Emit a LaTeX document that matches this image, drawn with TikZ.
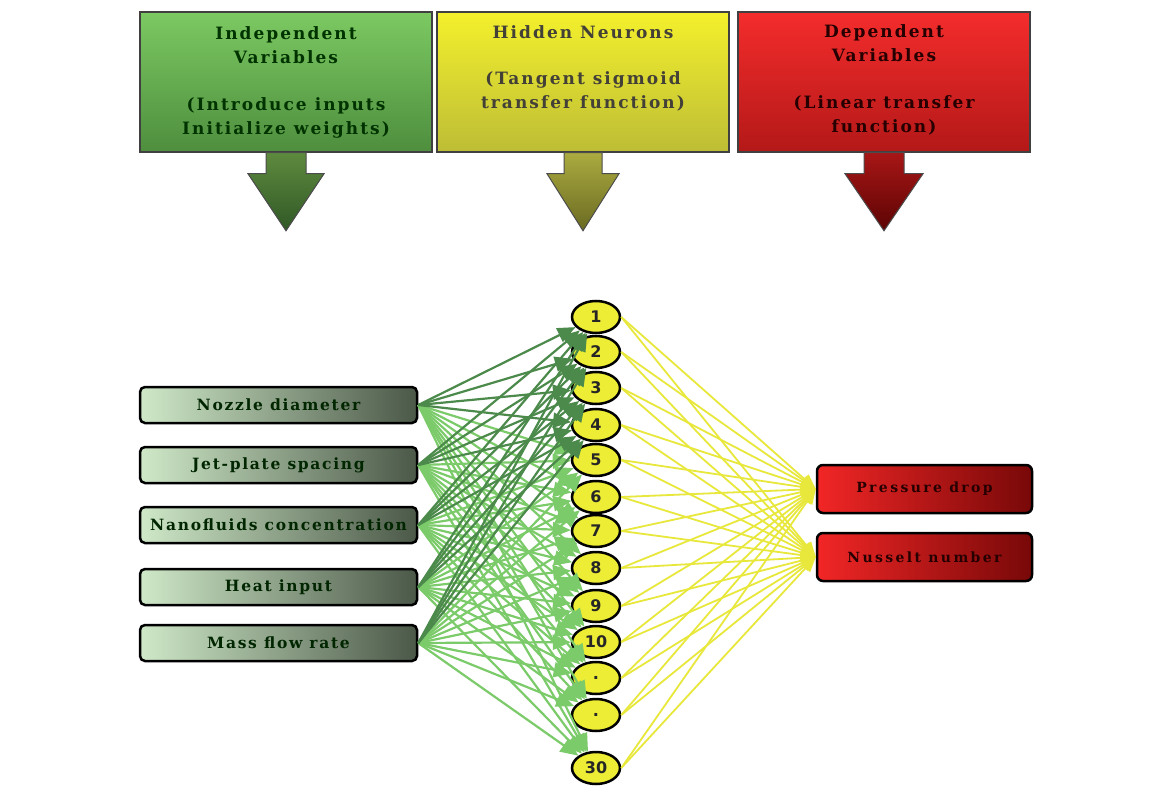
\documentclass[tikz,border=0pt]{standalone}
\usepackage{fontspec}
\setmainfont{DejaVu Serif}
\setsansfont{DejaVu Sans}
\newfontfamily\headfont[LetterSpace=12]{DejaVu Serif}
\newfontfamily\inputfont[LetterSpace=11]{DejaVu Serif}
\newfontfamily\outputfont[LetterSpace=17]{DejaVu Serif}
\usetikzlibrary{arrows.meta,shapes.geometric}

\definecolor{greentop}{HTML}{7CC962}
\definecolor{greenbot}{HTML}{4E8E3E}
\definecolor{yellowtop}{HTML}{F4F02C}
\definecolor{yellowbot}{HTML}{BDBD36}
\definecolor{redtop}{HTML}{F42C2C}
\definecolor{redbot}{HTML}{B41818}
\definecolor{garrowtop}{HTML}{5E8A3E}
\definecolor{garrowbot}{HTML}{305826}
\definecolor{yarrowtop}{HTML}{ABAB40}
\definecolor{yarrowbot}{HTML}{6A6A22}
\definecolor{rarrowtop}{HTML}{A81616}
\definecolor{rarrowbot}{HTML}{5C0404}
\definecolor{inleft}{HTML}{CFE9C8}
\definecolor{inright}{HTML}{4B5848}
\definecolor{outleft}{HTML}{F22626}
\definecolor{outright}{HTML}{780808}
\definecolor{neuronfill}{HTML}{EDED35}
\definecolor{darklink}{HTML}{4B8A4B}
\definecolor{lightlink}{HTML}{7CCB6A}
\definecolor{yellowlink}{HTML}{E8E83C}

\begin{document}
\begin{tikzpicture}[x=1pt,y=-1pt,
  headbox/.style={draw=black!75,line width=1.5pt,minimum width=292pt,minimum height=140pt,inner sep=0pt},
  headtext/.style={anchor=north,inner sep=0pt,align=center,font=\headfont\bfseries\fontsize{17}{24}\selectfont},
  bigarrow/.style={draw=black!70,line width=1pt},
  inbox/.style={draw=black,line width=2.5pt,rounded corners=5pt,minimum width=277pt,minimum height=36pt,inner sep=0pt,
    left color=inleft,right color=inright,text=black!85!green,font=\inputfont\bfseries\fontsize{15.5}{18}\selectfont},
  outbox/.style={draw=black,line width=2.5pt,rounded corners=6pt,minimum width=215pt,minimum height=48pt,inner sep=0pt,
    left color=outleft,right color=outright,text=black!85!red,font=\outputfont\bfseries\fontsize{14}{17}\selectfont},
  neuron/.style={ellipse,draw=black,line width=2.5pt,fill=neuronfill,minimum width=48pt,minimum height=32pt,inner sep=0pt,
    text=black!85,font=\sffamily\bfseries\fontsize{16}{16}\selectfont},
  tohidden/.style={line width=2.2pt,-{Triangle[length=18pt,width=15pt]}},
  toout/.style={line width=1.8pt,draw=yellowlink,-{Triangle[length=15pt,width=12pt]}}
]
\useasboundingbox[fill=white] (0,0) rectangle (1161,786);

% top row
\node[headbox,top color=greentop,bottom color=greenbot] (indep) at (286,82) {};
\node[headbox,top color=yellowtop,bottom color=yellowbot] (hidden) at (583,82) {};
\node[headbox,top color=redtop,bottom color=redbot] (dep) at (884,82) {};
\node[headtext,text=black!80!green] (indeptxt) at (286,26) {Independent\\Variables\\[23pt](Introduce inputs\\Initialize weights)};
\node[headtext,text=black!85!yellow] (hiddentxt) at (583,25) {Hidden Neurons\\[22pt](Tangent sigmoid\\transfer function)};
\node[headtext,text=black!85!red] (deptxt) at (884,24) {Dependent\\Variables\\[23pt](Linear transfer\\function)};

\shade[bigarrow,top color=garrowtop,bottom color=garrowbot,shift={(indep.south)}]
  (-20,0) -- (20,0) -- (20,21) -- (38,21) -- (0,78) -- (-38,21) -- (-20,21) -- cycle;
\shade[bigarrow,top color=yarrowtop,bottom color=yarrowbot,shift={(hidden.south)}]
  (-19,0) -- (19,0) -- (19,21) -- (36,21) -- (0,78) -- (-36,21) -- (-19,21) -- cycle;
\shade[bigarrow,top color=rarrowtop,bottom color=rarrowbot,shift={(dep.south)}]
  (-20,0) -- (20,0) -- (20,21) -- (39,21) -- (0,78) -- (-39,21) -- (-20,21) -- cycle;

% network
\foreach \i/\y/\t in {1/405/Nozzle diameter,2/465/Jet-plate spacing,3/525/Nanofluids concentration,4/587/Heat input,5/643/Mass flow rate}
  \node[inbox] (in\i) at (278.5,\y) {\t};

\foreach \n/\y/\t in {1/317/1,2/352/2,3/388/3,4/425/4,5/460/5,6/497/6,7/531/7,8/568/8,9/606/9,10/642/10,11/678/.,12/715/.,13/768/30}
  \node[neuron] (h\n) at (596,\y) {\t};

\node[outbox] (out1) at (924.5,489) {Pressure drop};
\node[outbox] (out2) at (924.5,557) {Nusselt number};

\foreach \n in {13,12,...,1}{
  \ifnum\n<5 \def\lc{darklink}\else\def\lc{lightlink}\fi
  \foreach \i in {1,...,5}
    \draw[tohidden,draw=\lc] (in\i.east) -- (h\n);
}

\foreach \n in {1,...,13}
  \foreach \o in {1,2}
    \draw[toout] (h\n.east) -- (out\o.west);
\end{tikzpicture}
\end{document}
